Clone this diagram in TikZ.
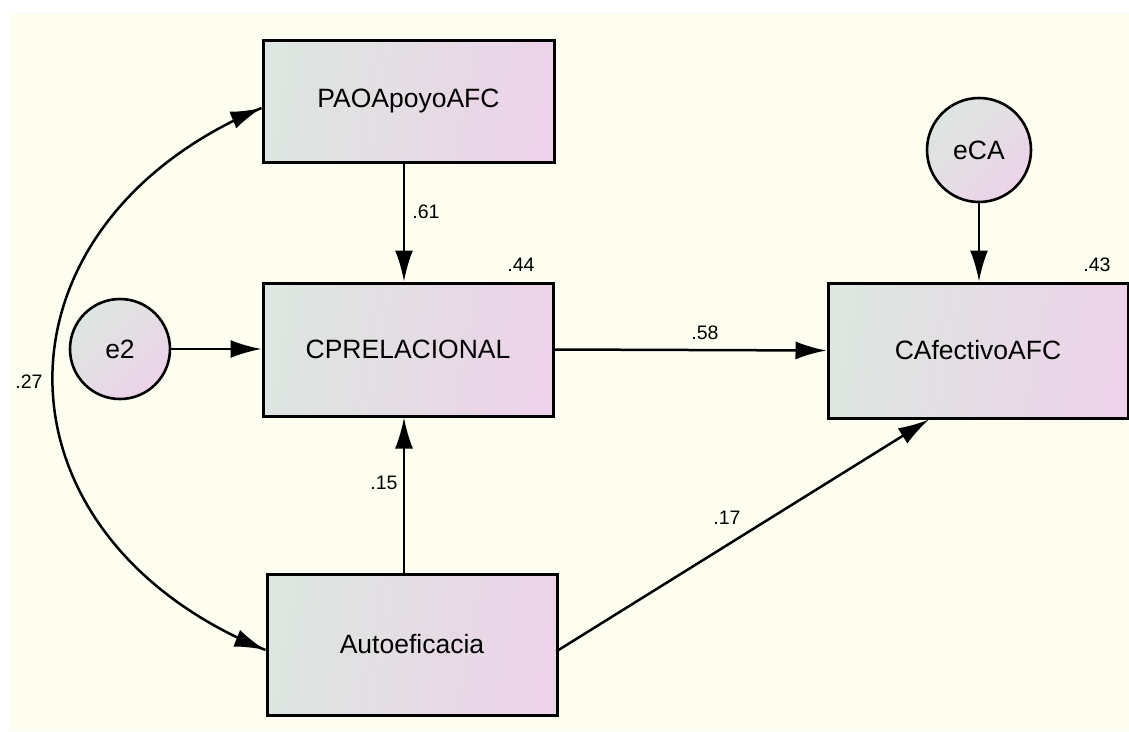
\documentclass[tikz,border=0pt]{standalone}
\usepackage{fontspec}
\setmainfont{Liberation Sans}
\usetikzlibrary{arrows.meta,decorations.markings}
\definecolor{paper}{RGB}{253,254,239}
\definecolor{shadeA}{RGB}{221,230,224}
\definecolor{shadeB}{RGB}{236,211,233}
\tikzset{
  obsvar/.style={draw=black, line width=3pt, rectangle, inner sep=0pt,
    left color=shadeA, right color=shadeB, shading angle=80,
    font=\fontsize{26.5}{29}\selectfont},
  errvar/.style={draw=black, line width=2.6pt, circle, inner sep=0pt,
    left color=shadeA, right color=shadeB, shading angle=45,
    font=\fontsize{26.5}{29}\selectfont},
  path/.style={line width=2.5pt, -{Latex[length=31pt,width=18pt]}},
  % two-headed curve: heads placed on the path so the curve keeps its shape
  cov/.style={line width=2.5pt, postaction={decorate},
    decoration={markings,
      mark=at position 0 with {\arrowreversed{Latex[length=31pt,width=18pt]}},
      mark=at position 0.99995 with {\arrow{Latex[length=31pt,width=18pt]}}}},
  coef/.style={inner sep=0pt, font=\fontsize{19.5}{21}\selectfont}
}
\begin{document}
\begin{tikzpicture}[x=1pt,y=-1pt]
  % canvas
  \useasboundingbox (0,0) rectangle (1129,731);
  \fill[white] (0,0) rectangle (1129,731);
  \fill[paper] (10,14) rectangle (1129,731);

  % observed variables
  \node[obsvar, minimum width=291pt, minimum height=122pt] (pao) at (408.5,101) {PAOApoyoAFC};
  \node[obsvar, minimum width=290pt, minimum height=133pt] (cpr) at (408,349.5) {CPRELACIONAL};
  \node[obsvar, minimum width=300pt, minimum height=135pt] (caf) at (978,350.5) {CAfectivoAFC};
  \node[obsvar, minimum width=290pt, minimum height=141pt] (aut) at (412,644.5) {Autoeficacia};

  % error terms
  \node[errvar, minimum size=100pt] (e2) at (120,349) {e2};
  \node[errvar, minimum size=104pt] (eca) at (979,150) {eCA};

  % regression paths
  \draw[path] ([xshift=-4.5pt]pao.south) -- ([xshift=-4pt]cpr.north);
  \draw[path] (e2.east) -- (cpr.west |- e2.east);
  \draw[path] (cpr.east) -- (caf.west);
  \draw[path] (eca.south) -- (eca.south |- caf.north);
  \draw[path] ([xshift=-8pt]aut.north) -- ([xshift=-4pt]cpr.south);
  \draw[path] ([yshift=-5.5pt]aut.east) -- ([xshift=-49pt]caf.south);

  % covariance
  \draw[cov] ([yshift=-7pt]pao.west) .. controls (-18,225) and (-18,535) .. ([yshift=-5.5pt]aut.west);

  % coefficients
  \node[coef] (c61) at (426,212) {.61};
  \node[coef] (r44) at (521,265) {.44};
  \node[coef] (r43) at (1097,265) {.43};
  \node[coef] (c58) at (705,333) {.58};
  \node[coef] (c15) at (384,483) {.15};
  \node[coef] (c17) at (727,518) {.17};
  \node[coef] (c27) at (29,382) {.27};
\end{tikzpicture}
\end{document}
